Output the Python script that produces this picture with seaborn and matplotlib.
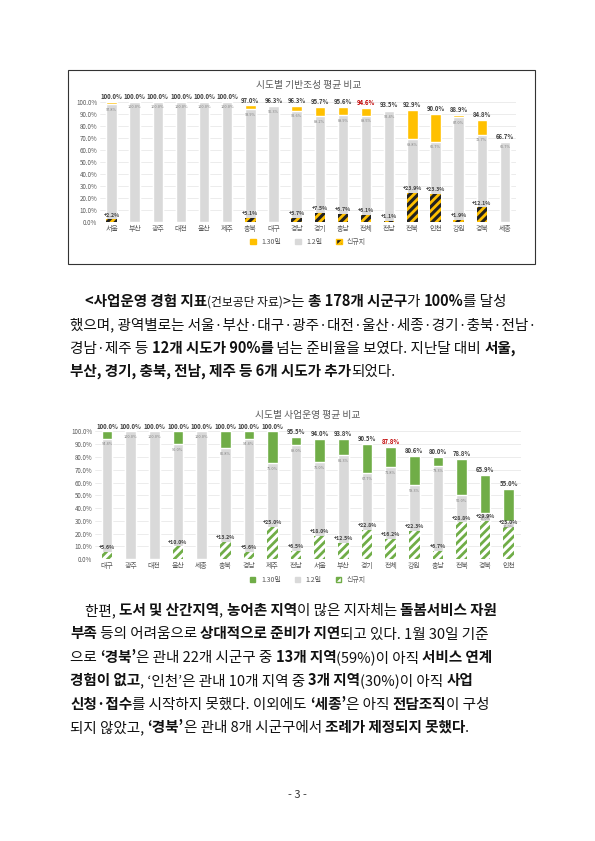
import matplotlib
matplotlib.use("Agg")
import matplotlib.pyplot as plt
import matplotlib.patches as mpatches
import seaborn as sns
import pandas as pd

sns.set_theme(style="white")
plt.rcParams['font.family'] = ['Noto Sans CJK KR', 'DejaVu Sans']
plt.rcParams['hatch.linewidth'] = 2.0

# 기반조성
regions1 = ['서울', '부산', '광주', '대전', '울산', '제주', '충북', '대구', '경남', '경기',
            '충남', '전체', '전남', '전북', '인천', '강원', '경북', '세종']
total1 = [100.0, 100.0, 100.0, 100.0, 100.0, 100.0, 97.0, 96.3, 96.3, 95.7,
          95.6, 94.6, 93.5, 92.9, 90.0, 88.9, 84.8, 66.7]
prev1 = [97.8, 100.0, 100.0, 100.0, 100.0, 100.0, 93.9, 96.3, 92.6, 88.2,
         88.9, 88.5, 92.4, 68.8, 66.7, 87.0, 72.7, 66.7]
new1 = [2.2, 0, 0, 0, 0, 0, 3.1, 0, 3.7, 7.5, 6.7, 6.1, 1.1, 23.9, 23.3, 1.9, 12.1, 0]

# 사업운영
regions2 = ['대구', '광주', '대전', '울산', '세종', '충북', '경남', '제주', '전남', '서울',
            '부산', '경기', '전체', '강원', '충남', '전북', '경북', '인천']
total2 = [100.0, 100.0, 100.0, 100.0, 100.0, 100.0, 100.0, 100.0, 95.5, 94.0,
          93.8, 90.5, 87.8, 80.6, 80.0, 78.8, 65.9, 55.0]
prev2 = [94.4, 100.0, 100.0, 90.0, 100.0, 86.8, 94.4, 75.0, 89.0, 76.0,
         81.3, 67.7, 71.8, 58.3, 73.3, 50.0, 36.0, 30.0]
new2 = [5.6, 0, 0, 10.0, 0, 13.2, 5.6, 25.0, 6.5, 18.0, 12.5, 22.8, 16.2, 22.3, 6.7, 28.8, 29.9, 25.0]

fig = plt.figure(figsize=(5.95, 8.41), dpi=100)


def stacked(ax, regions, total, prev, new, color, hatch_col, title, legend_lbl, red_idx):
    df = pd.DataFrame({'r': regions, 't': total, 'p': prev, 'n': new})
    sns.barplot(data=df, x='r', y='t', color=color, width=0.45, saturation=1, ax=ax)
    sns.barplot(data=df, x='r', y='p', color='#D9D9D9', width=0.45, saturation=1, ax=ax)
    sns.barplot(data=df, x='r', y='n', color=hatch_col, width=0.45, saturation=1, ax=ax)
    for b in ax.containers[2]:
        b.set_facecolor(hatch_col)
        b.set_edgecolor(color)
        b.set_hatch('////')
        b.set_linewidth(0)
    for i in range(len(regions)):
        ax.text(i, total[i] + 1.5, f'{total[i]:.1f}%', ha='center', va='bottom', fontsize=4.3,
                fontweight='bold', color='#C00000' if i == red_idx else '#404040')
        ax.text(i, prev[i] - 3, f'{prev[i]:.1f}%', ha='center', va='top', fontsize=2.8, color='#808080')
        if new[i] > 0:
            ax.text(i, new[i] + 1.5, f'+{new[i]:.1f}%', ha='center', va='bottom', fontsize=3.8,
                    fontweight='bold', color='#404040')
    ax.set_ylim(0, 100)
    ax.set_yticks(range(0, 101, 10))
    ax.set_yticklabels([f'{v:.1f}%' for v in range(0, 101, 10)], fontsize=4.5, color='#595959')
    ax.tick_params(axis='x', labelsize=5, colors='#595959', length=0, pad=2)
    ax.tick_params(axis='y', length=0, pad=2)
    ax.set_xlabel('')
    ax.set_ylabel('')
    ax.grid(axis='y', color='#E5E5E5', linewidth=0.5)
    ax.set_axisbelow(True)
    for s in ax.spines.values():
        s.set_visible(False)
    ax.set_title(title, fontsize=7, color='#595959', pad=10)
    handles = [mpatches.Patch(color=color, label=legend_lbl[0]),
               mpatches.Patch(color='#D9D9D9', label=legend_lbl[1]),
               mpatches.Patch(facecolor=hatch_col, edgecolor=color, hatch='////', label=legend_lbl[2])]
    ax.legend(handles=handles, loc='upper center', bbox_to_anchor=(0.5, -0.08), ncol=3,
              fontsize=5, frameon=False, handlelength=0.8, handleheight=0.8, labelcolor='#595959')


# 차트 1 (테두리 있음)
fig.patches.append(mpatches.Rectangle((68 / 595, 1 - 264 / 841), 467 / 595, 194 / 841,
                                      transform=fig.transFigure, fill=False, edgecolor='#333333', lw=0.8))
ax1 = fig.add_axes([0.168, 0.736, 0.70, 0.143])
stacked(ax1, regions1, total1, prev1, new1, '#FFC000', '#222222', '시도별 기반조성 평균 비교',
        ['1.30일', '1.2일', '신규지'], 11)

ax2 = fig.add_axes([0.16, 0.335, 0.715, 0.152])
stacked(ax2, regions2, total2, prev2, new2, '#70AD47', '#FFFFFF', '시도별 사업운영 평균 비교',
        ['1.30일', '1.2일', '신규지'], 12)

# 본문
para1 = [
    (85, [('<사업운영 경험 지표', 'b'), ('(건보공단 자료)', 's'), ('>는 ', 'n'), ('총 178개 시군구', 'b'),
          ('가 ', 'n'), ('100%', 'b'), ('를 달성', 'n')]),
    (70, [('했으며, 광역별로는 서울·부산·대구·광주·대전·울산·세종·경기·충북·전남·', 'n')]),
    (70, [('경남·제주 등 ', 'n'), ('12개 시도가 90%를', 'b'), (' 넘는 준비율을 보였다. 지난달 대비 ', 'n'),
          ('서울,', 'b')]),
    (70, [('부산, 경기, 충북, 전남, 제주 등 6개 시도가 추가', 'b'), ('되었다.', 'n')]),
]
para2 = [
    (85, [('한편, ', 'n'), ('도서 및 산간지역', 'b'), (', ', 'n'), ('농어촌 지역', 'b'),
          ('이 많은 지자체는 ', 'n'), ('돌봄서비스 자원', 'b')]),
    (70, [('부족', 'b'), (' 등의 어려움으로 ', 'n'), ('상대적으로 준비가 지연', 'b'),
          ('되고 있다. 1월 30일 기준', 'n')]),
    (70, [('으로 ', 'n'), ('‘경북’', 'b'), ('은 관내 22개 시군구 중 ', 'n'), ('13개 지역', 'b'),
          ('(59%)이 아직 ', 'n'), ('서비스 연계', 'b')]),
    (70, [('경험이 없고', 'b'), (', ‘인천’은 관내 10개 지역 중 ', 'n'), ('3개 지역', 'b'),
          ('(30%)이 아직 ', 'n'), ('사업', 'b')]),
    (70, [('신청·접수', 'b'), ('를 시작하지 못했다. 이외에도 ', 'n'), ('‘세종’', 'b'), ('은 아직 ', 'n'),
          ('전담조직', 'b'), ('이 구성', 'n')]),
    (70, [('되지 않았고, ', 'n'), ('‘경북’', 'b'), ('은 관내 8개 시군구에서 ', 'n'),
          ('조례가 제정되지 못했다', 'b'), ('.', 'n')]),
]

fig.canvas.draw()
renderer = fig.canvas.get_renderer()


def draw_line(x_px, y_px, runs):
    x = x_px
    for txt, st in runs:
        kw = dict(fontsize=10.5, color='#111111', va='baseline')
        if st == 'b':
            kw['fontweight'] = 'bold'
        if st == 's':
            kw['fontsize'] = 8.5
        t = fig.text(x / 595, 1 - y_px / 841, txt, **kw)
        bb = t.get_window_extent(renderer)
        x += bb.width


for k, (x0, runs) in enumerate(para1):
    draw_line(x0, 306 + k * 23.3, runs)
for k, (x0, runs) in enumerate(para2):
    draw_line(x0, 615 + k * 23.4, runs)

fig.text(0.5, 1 - 798 / 841, '- 3 -', ha='center', va='baseline', fontsize=8, color='#333333')

fig.savefig('out.png', dpi=100)
